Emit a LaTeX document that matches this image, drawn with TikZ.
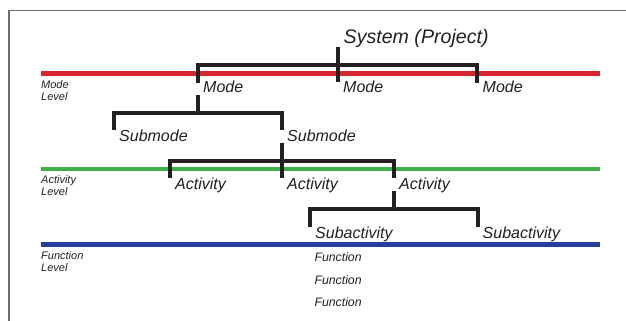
\documentclass[tikz,border=0pt]{standalone}
\usepackage{fontspec}
\setmainfont{Liberation Sans}
\definecolor{ink}{HTML}{231F20}
\definecolor{framegray}{HTML}{6E6E6E}
\definecolor{modered}{HTML}{D7262E}
\definecolor{actgreen}{HTML}{3DB049}
\definecolor{funcblue}{HTML}{25409A}
\begin{document}
\begin{tikzpicture}[x=1pt,y=-1pt,
  lbl/.style={inner sep=0pt, anchor=base west, text=ink, font=\itshape\fontsize{16}{19}\selectfont},
  syslbl/.style={lbl, font=\itshape\fontsize{19.6}{23}\selectfont},
  funclbl/.style={lbl, font=\itshape\fontsize{12.3}{14}\selectfont},
  levlbl/.style={inner sep=0pt, anchor=north west, align=left, text=ink, font=\itshape\fontsize{11}{12}\selectfont},
  levelline/.style={line width=4.6pt},
  tree/.style={draw=ink, line width=4pt, line join=miter, line cap=butt},
  framestyle/.style={draw=framegray, line width=1.1pt}]
\useasboundingbox (0,0) rectangle (626,321);
% frame
\coordinate (fTR) at (626,10.5);
\coordinate (fTL) at (9,10.5);
\coordinate (fBL) at (9,321);
\draw[framestyle] (fTR) -- (fTL) -- (fBL);
% level lines
\coordinate (redL) at (41,73.7);   \coordinate (redR) at (600,73.7);
\coordinate (grnL) at (41,169);    \coordinate (grnR) at (600,169);
\coordinate (bluL) at (41,244.5);  \coordinate (bluR) at (600,244.5);
\draw[levelline, modered] (redL) -- (redR);
\draw[levelline, actgreen] (grnL) -- (grnR);
\draw[levelline, funcblue] (bluL) -- (bluR);
% level labels
\node[levlbl] (modeLev) at (41,80) {Mode\\Level};
\node[levlbl] (actLev) at (41,175.5) {Activity\\Level};
\node[levlbl] (funcLev) at (41,251.5) {Function\\Level};
% labels
\node[syslbl] (sys) at (343.5,44) {System (Project)};
\node[lbl] (mode1) at (203,92.7) {Mode};
\node[lbl] (mode2) at (343,92.7) {Mode};
\node[lbl] (mode3) at (482.5,92.7) {Mode};
\node[lbl] (sub1) at (119,141) {Submode};
\node[lbl] (sub2) at (287,141) {Submode};
\node[lbl] (act1) at (175,189.5) {Activity};
\node[lbl] (act2) at (287,189.5) {Activity};
\node[lbl] (act3) at (399,189.5) {Activity};
\node[lbl] (subact1) at (315,238) {Subactivity};
\node[lbl] (subact2) at (482.5,238) {Subactivity};
\node[funclbl] (fn1) at (314.3,261.7) {Function};
\node[funclbl] (fn2) at (314.3,284) {Function};
\node[funclbl] (fn3) at (314.3,306) {Function};
% tree connector points
\coordinate (sysTop) at (337.5,47);
\coordinate (sysBot) at (337.5,82);
\coordinate (m1Bar) at (198,64.7);   \coordinate (m1End) at (198,83);
\coordinate (m3Bar) at (476.5,64.7); \coordinate (m3End) at (476.5,83);
\coordinate (m1Out) at (198,95);     \coordinate (m1Join) at (198,113);
\coordinate (s1Bar) at (114,113);    \coordinate (s1End) at (114,130);
\coordinate (s2Bar) at (282,113);    \coordinate (s2End) at (282,130);
\coordinate (s2Out) at (282,143);    \coordinate (s2Join) at (282,160.5);
\coordinate (a2End) at (282,178);
\coordinate (a1Bar) at (170,160.5);  \coordinate (a1End) at (170,178);
\coordinate (a3Bar) at (394,160.5);  \coordinate (a3End) at (394,178);
\coordinate (a3Out) at (394,191);    \coordinate (a3Join) at (394,209);
\coordinate (sa1Bar) at (310,209);   \coordinate (sa1End) at (310,227);
\coordinate (sa2Bar) at (477.5,209); \coordinate (sa2End) at (477.5,227);
% tree connectors
\path[tree] (m1End) -- (m1Bar) -- (m3Bar) -- (m3End);
\path[tree] (sysTop) -- (sysBot);
\path[tree] (m1Out) -- (m1Join);
\path[tree] (s1End) -- (s1Bar) -- (s2Bar) -- (s2End);
\path[tree] (s2Out) -- (a2End);
\path[tree] (a1End) -- (a1Bar) -- (a3Bar) -- (a3End);
\path[tree] (a3Out) -- (a3Join);
\path[tree] (sa1End) -- (sa1Bar) -- (sa2Bar) -- (sa2End);
\end{tikzpicture}
\end{document}
